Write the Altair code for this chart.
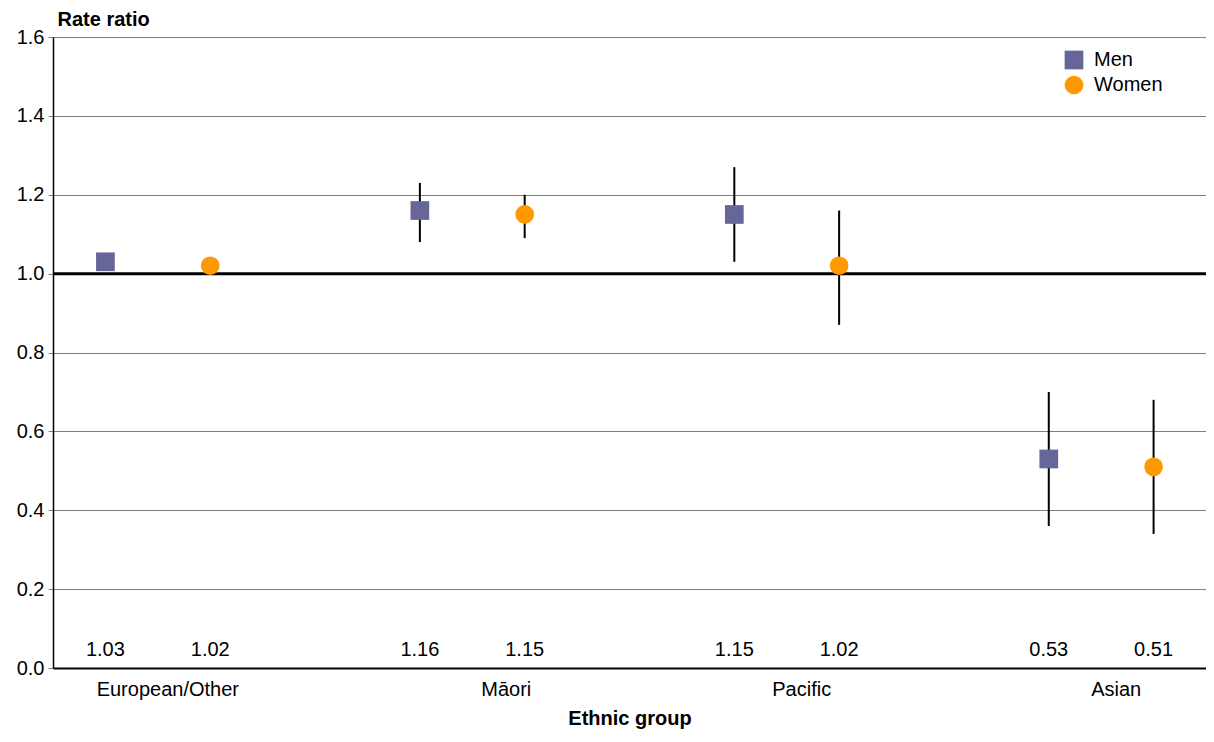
import altair as alt
import pandas as pd

groups = ["European/Other", "European/Other", "Māori", "Māori",
          "Pacific", "Pacific", "Asian", "Asian"]
sexes = ["Men", "Women", "Men", "Women", "Men", "Women", "Men", "Women"]
rate_ratio = [1.03, 1.02, 1.16, 1.15, 1.15, 1.02, 0.53, 0.51]
ci_low = [1.01, 1.00, 1.08, 1.09, 1.03, 0.87, 0.36, 0.34]
ci_high = [1.05, 1.04, 1.23, 1.20, 1.27, 1.16, 0.70, 0.68]
group_order = ["European/Other", "Māori", "Pacific", "Asian"]
sex_order = ["Men", "Women"]
sex_colors = ["#666699", "#FF9900"]
sex_shapes = ["square", "circle"]
y_ticks = [0.0, 0.2, 0.4, 0.6, 0.8, 1.0, 1.2, 1.4, 1.6]
reference_value = [1.0]

df = pd.DataFrame({
    "group": groups,
    "sex": sexes,
    "rr": rate_ratio,
    "lo": ci_low,
    "hi": ci_high,
})
df["label"] = [f"{v:.2f}" for v in rate_ratio]
ref_df = pd.DataFrame({"ref": reference_value})

FONT = "Liberation Sans"
FS = 20

x_enc = alt.X(
    "group:N",
    sort=group_order,
    scale=alt.Scale(paddingInner=1 / 3, paddingOuter=0),
    axis=alt.Axis(
        title="Ethnic group",
        titleFont=FONT, titleFontSize=FS, titleFontWeight="bold", titleColor="black",
        titleBaseline="middle", titleY=50,
        labelAngle=0, labelFont=FONT, labelFontSize=FS, labelColor="black",
        labelBaseline="middle", labelPadding=21,
        labelOffset={"condition": [
            {"test": "datum.label == 'Māori'", "value": 34},
            {"test": "datum.label == 'Pacific'", "value": 15},
            {"test": "datum.label == 'Asian'", "value": 15},
        ], "value": 10},
        ticks=False, tickSize=0,
        domainColor="black", domainWidth=2,
        grid=False,
    ),
)
xo_enc = alt.XOffset(
    "sex:N", sort=sex_order,
    scale=alt.Scale(paddingInner=0, paddingOuter=0),
)
y_scale = alt.Scale(domain=[0, 1.6], nice=False, zero=True)
y_axis = alt.Axis(
    title="Rate ratio",
    titleFont=FONT, titleFontSize=FS, titleFontWeight="bold", titleColor="black",
    titleAngle=0, titleAlign="left", titleBaseline="middle", titleX=4, titleY=-18,
    values=y_ticks, format=".1f",
    labelFont=FONT, labelFontSize=FS, labelColor="black", labelPadding=4,
    tickColor="#7f7f7f", tickSize=5, tickWidth=1,
    domainColor="black", domainWidth=1.5,
    grid=True, gridColor="#7f7f7f", gridWidth=1,
)

grid_layer = alt.Chart(df).mark_point(opacity=0).encode(
    x=x_enc, xOffset=xo_enc,
    y=alt.Y("rr:Q", scale=y_scale, axis=y_axis),
)

ref_layer = alt.Chart(ref_df).mark_rule(color="black", strokeWidth=3).encode(
    y=alt.Y("ref:Q", scale=y_scale),
)

err_layer = alt.Chart(df).mark_rule(color="black", strokeWidth=2).encode(
    x=x_enc, xOffset=xo_enc,
    y=alt.Y("lo:Q", scale=y_scale),
    y2="hi:Q",
)

pts_layer = alt.Chart(df).mark_point(filled=True, opacity=1, size=350, strokeWidth=0).encode(
    x=x_enc, xOffset=xo_enc,
    y=alt.Y("rr:Q", scale=y_scale),
    color=alt.Color("sex:N", sort=sex_order,
                    scale=alt.Scale(domain=sex_order, range=sex_colors),
                    legend=alt.Legend(
                        title=None, orient="none", legendX=1011, legendY=13,
                        labelFont=FONT, labelFontSize=FS, labelColor="black",
                        labelOffset=10, rowPadding=5, padding=0,
                        symbolSize=350, symbolStrokeWidth=0, symbolOpacity=1,
                    )),
    shape=alt.Shape("sex:N", sort=sex_order,
                    scale=alt.Scale(domain=sex_order, range=sex_shapes)),
)

lbl_layer = alt.Chart(df).mark_text(
    font=FONT, fontSize=FS, color="black", baseline="middle", align="center"
).encode(
    x=x_enc, xOffset=xo_enc,
    y=alt.datum(0.045),
    text="label:N",
)

chart = alt.layer(grid_layer, ref_layer, err_layer, pts_layer, lbl_layer).properties(
    width=1153, height=631,
    autosize=alt.AutoSizeParams(type="none"),
    padding={"left": 45, "top": 29, "right": 0, "bottom": 61},
    background="white",
).configure_view(stroke=None)

chart.save("out.html", embed_options={"renderer": "svg", "actions": False})
